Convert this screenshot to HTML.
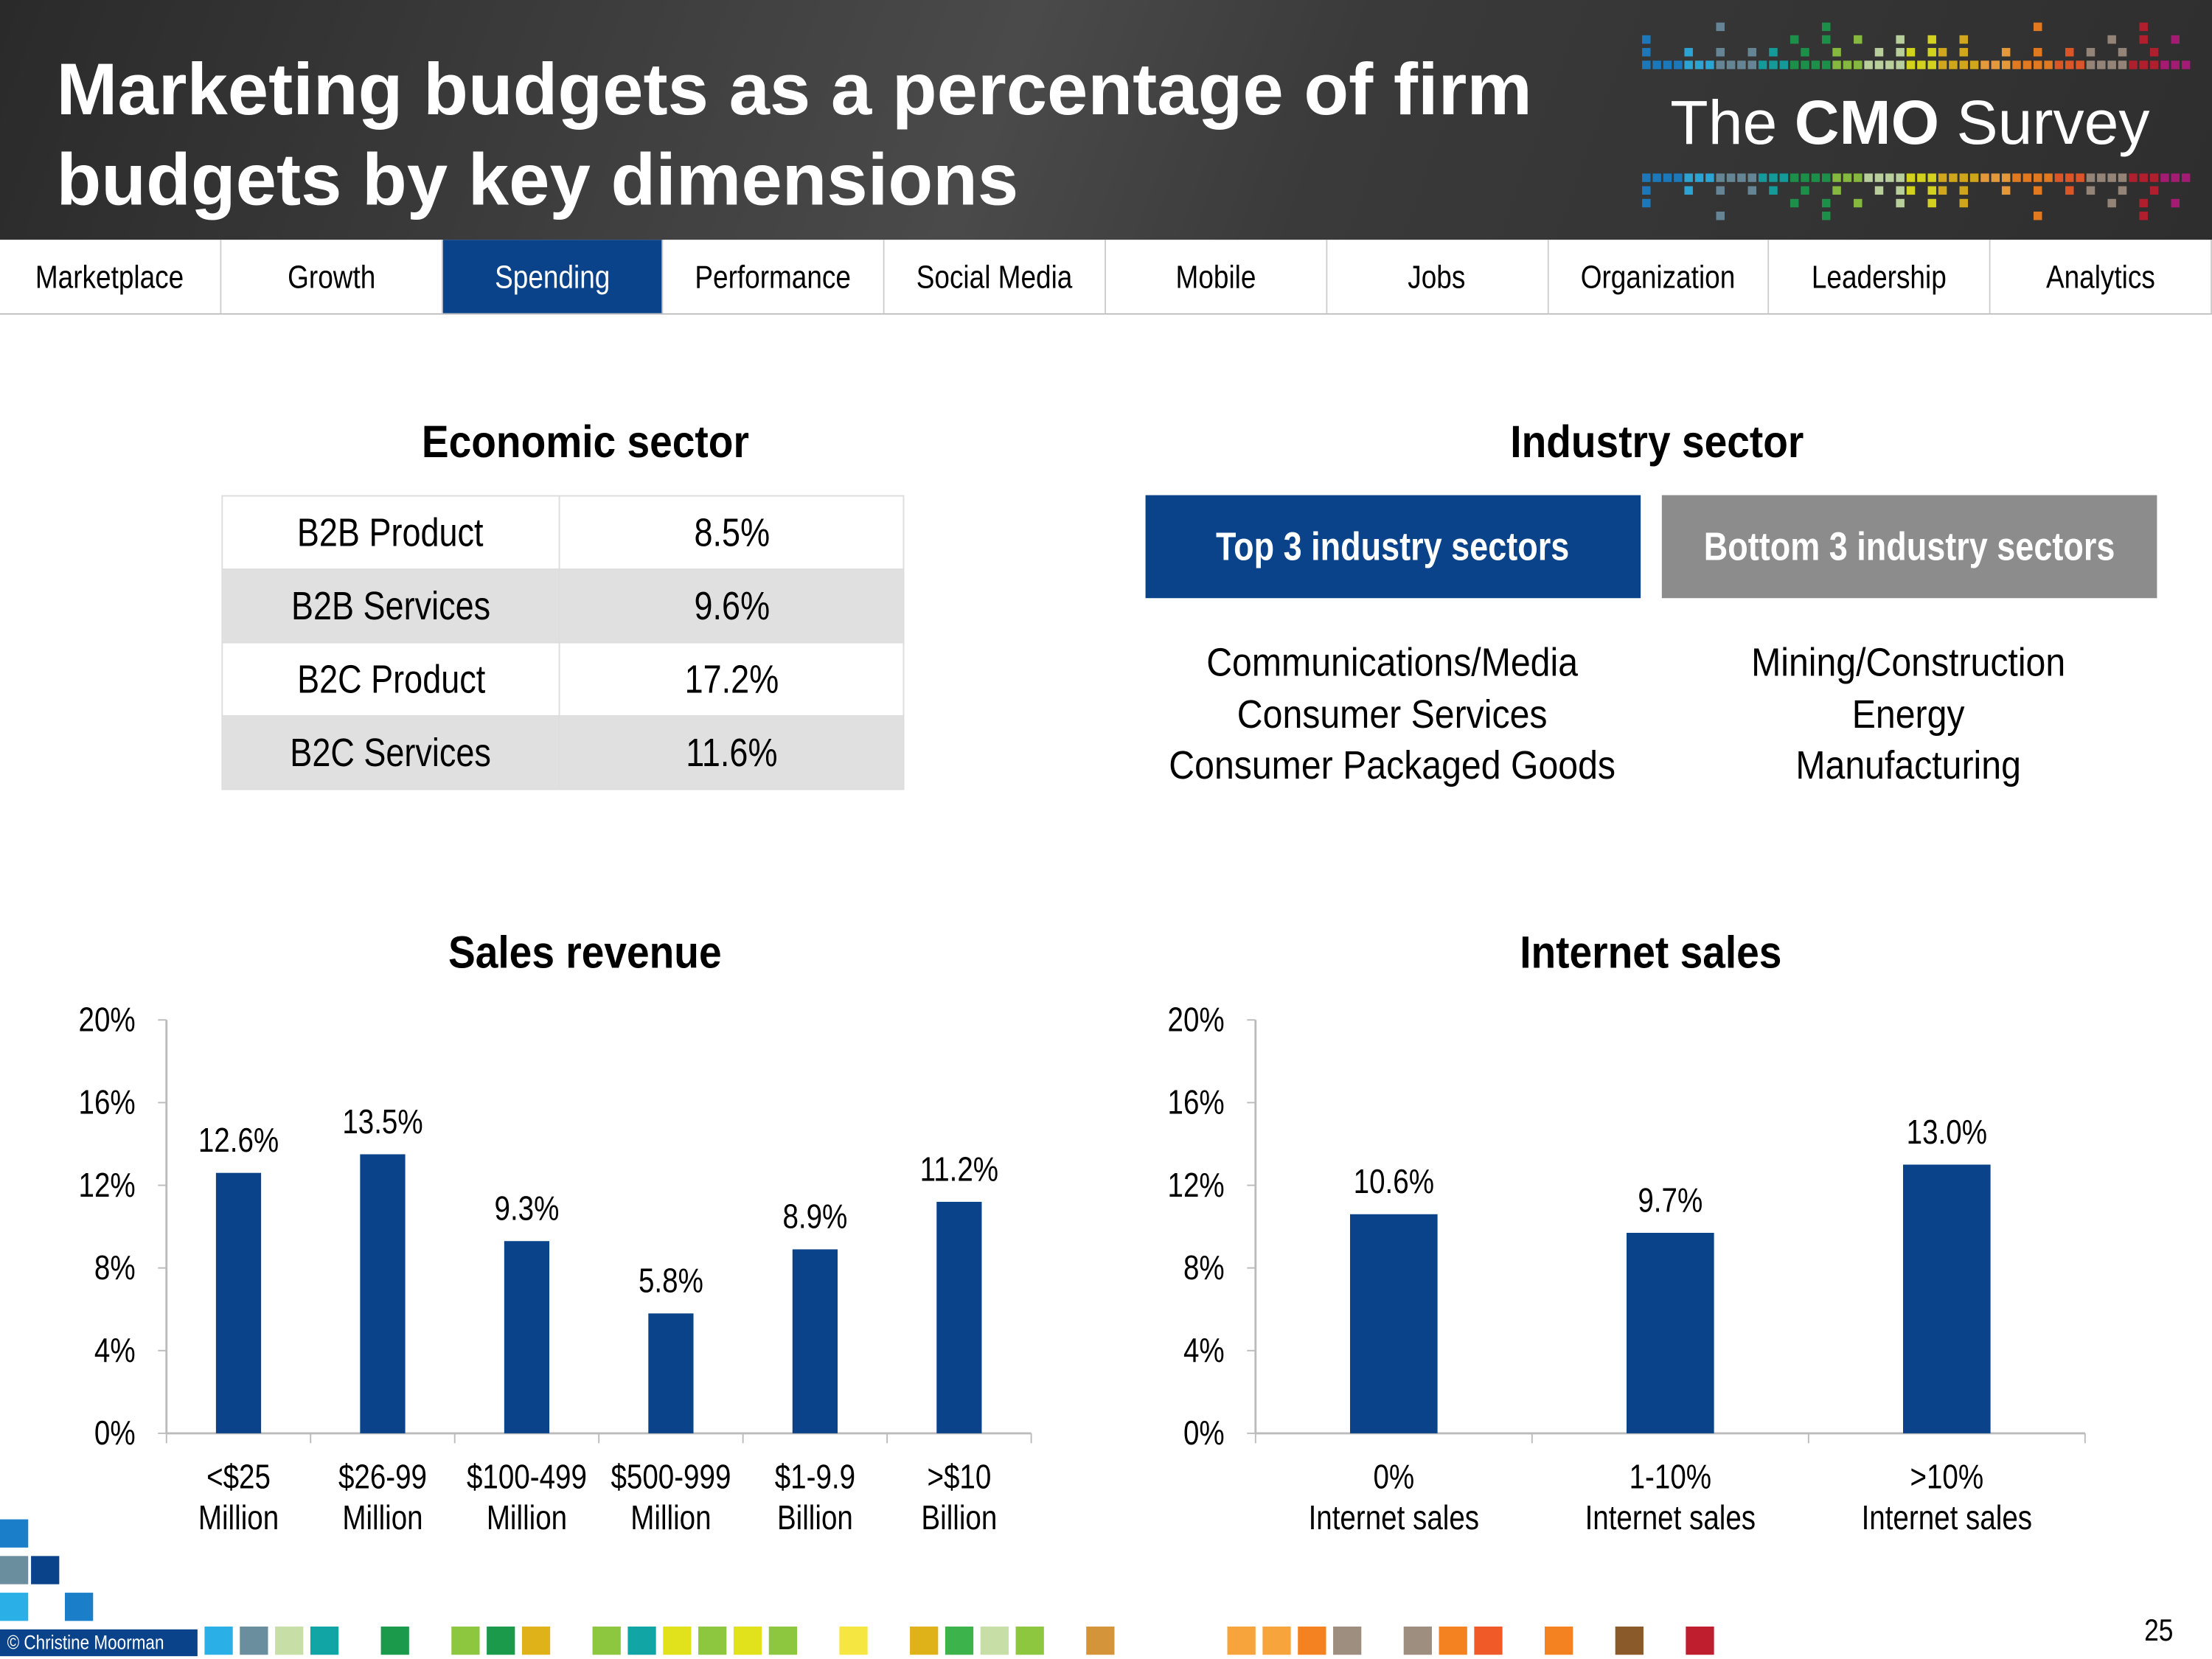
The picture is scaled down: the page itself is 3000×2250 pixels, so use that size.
<!DOCTYPE html>
<html><head><meta charset="utf-8"><style>
html,body{margin:0;padding:0;background:#fff;overflow:hidden}
#page{position:relative;width:1568px;height:1176px;transform:scale(1.91327);transform-origin:0 0;font-family:"Liberation Sans",sans-serif;color:#000}
.abs{position:absolute}
.n{display:inline-block;transform:scaleX(.84);white-space:nowrap}
.h .n,.list .n{transform:scaleX(.9)}
#header{left:0;top:0;width:1568px;height:170px;background:linear-gradient(110deg,#2a2a2a 0%,#4a4a4a 45%,#3a3a3a 60%,#2e2e2e 100%)}
#title{left:40px;top:32px;font-weight:bold;font-size:52px;line-height:64px;color:#fff;white-space:nowrap}
#nav{left:0;top:170px;width:1568px;height:52px;display:flex;border-bottom:1px solid #bbb}
.tab{flex:1;border-right:1px solid #ccc;display:flex;align-items:center;justify-content:center;font-size:23px;background:#fff}
.tab.on{background:#0a4389;color:#fff}
.h{font-weight:bold;font-size:32px;text-align:center}
table{border-collapse:collapse;font-size:28px}
td{border:1px solid #ddd;height:51px;text-align:center;padding:0}
.g td{background:#e0e0e0}
.box{display:flex;align-items:center;justify-content:center;color:#fff;font-weight:bold;font-size:28px}
.list{text-align:center;font-size:28px;line-height:36.5px;width:400px}
</style></head><body>
<div id="page">
<div id="header" class="abs">
 <div id="title" class="abs">Marketing budgets as a percentage of firm<br>budgets by key dimensions</div>
 <svg id="logo" class="abs" style="left:1160px;top:0" width="408" height="170">
  <g id="dots"></g>
  <text x="24" y="102" fill="#fff" font-family="Liberation Sans,sans-serif" font-size="44" font-weight="300">The <tspan font-weight="bold">CMO</tspan> Survey</text>
 </svg>
</div>
<div id="nav" class="abs">
 <div class="tab"><span class="n">Marketplace</span></div>
 <div class="tab"><span class="n">Growth</span></div>
 <div class="tab on"><span class="n">Spending</span></div>
 <div class="tab"><span class="n">Performance</span></div>
 <div class="tab"><span class="n">Social Media</span></div>
 <div class="tab"><span class="n">Mobile</span></div>
 <div class="tab"><span class="n">Jobs</span></div>
 <div class="tab"><span class="n">Organization</span></div>
 <div class="tab"><span class="n">Leadership</span></div>
 <div class="tab"><span class="n">Analytics</span></div>
</div>
<div class="abs h" style="left:215px;top:295px;width:400px"><span class="n">Economic sector</span></div>
<table class="abs" style="left:157px;top:351px;width:484px">
 <tr><td style="width:238px"><span class="n">B2B Product</span></td><td><span class="n">8.5%</span></td></tr>
 <tr class="g"><td><span class="n">B2B Services</span></td><td><span class="n">9.6%</span></td></tr>
 <tr><td><span class="n">B2C Product</span></td><td><span class="n">17.2%</span></td></tr>
 <tr class="g"><td><span class="n">B2C Services</span></td><td><span class="n">11.6%</span></td></tr>
</table>
<div class="abs h" style="left:975px;top:295px;width:400px"><span class="n">Industry sector</span></div>
<div class="abs box" style="left:812px;top:351px;width:351px;height:73px;background:#0a4389"><span class="n">Top 3 industry sectors</span></div>
<div class="abs box" style="left:1178px;top:351px;width:351px;height:73px;background:#8c8c8c"><span class="n">Bottom 3 industry sectors</span></div>
<div class="abs list" style="left:787px;top:452px"><span class="n">Communications/Media<br>Consumer Services<br>Consumer Packaged Goods</span></div>
<div class="abs list" style="left:1153px;top:452px"><span class="n">Mining/Construction<br>Energy<br>Manufacturing</span></div>
<div class="abs h" style="left:215px;top:657px;width:400px"><span class="n">Sales revenue</span></div>
<div class="abs h" style="left:970px;top:657px;width:400px"><span class="n">Internet sales</span></div>
<svg class="abs" style="left:0;top:0" width="1568" height="1176" id="charts"></svg>
<div class="abs" style="left:0;top:1155px;width:140px;height:19px;background:#0a4389;color:#fff;font-size:14px;line-height:19px;padding-left:5px;box-sizing:border-box"><span class="n" style="transform-origin:0 50%">© Christine Moorman</span></div>
<div class="abs" style="left:1518px;top:1143px;font-size:22px"><span class="n">25</span></div>
</div>
<script>
const revCats=[["<$25","Million"],["$26-99","Million"],["$100-499","Million"],["$500-999","Million"],["$1-9.9","Billion"],[">$10","Billion"]];
const revVals=[12.6,13.5,9.3,5.8,8.9,11.2];
const revLabels=["12.6%","13.5%","9.3%","5.8%","8.9%","11.2%"];
const netCats=[["0%","Internet sales"],["1-10%","Internet sales"],[">10%","Internet sales"]];
const netVals=[10.6,9.7,13.0];
const netLabels=["10.6%","9.7%","13.0%"];
const ticks=[0,4,8,12,16,20];
const tickLabels=["0%","4%","8%","12%","16%","20%"];
const NS="http://www.w3.org/2000/svg";
const svg=document.getElementById('charts');
function mk(t,a,p){const e=document.createElementNS(NS,t);for(const k in a)e.setAttribute(k,a[k]);(p||svg).appendChild(e);return e;}
function txt(x,y,s,anchor,g){const t=mk('text',{transform:'translate('+x+','+y+') scale(0.84,1)','text-anchor':anchor,'font-size':24,'font-family':'Liberation Sans,sans-serif'},g);t.textContent=s;return t;}
function chart(x0,x1,cats,vals,labels,bw,nm){
 const y=v=>1016-v*(293/20);const cw=(x1-x0)/cats.length;
 const g=mk('g',{});
 
 
 mk('line',{x1:x0,y1:723,x2:x0,y2:1016,stroke:'#bbb','stroke-width':1.5},g);
 mk('line',{x1:x0,y1:1016,x2:x1,y2:1016,stroke:'#bbb','stroke-width':1.5},g);
 ticks.forEach((t,i)=>{mk('line',{x1:x0-6,y1:y(t),x2:x0,y2:y(t),stroke:'#bbb'},g);
  const tx=txt(x0-22,y(t)+8,tickLabels[i],'end',g);
  
  });
 for(let i=0;i<=cats.length;i++)mk('line',{x1:x0+i*cw,y1:1016,x2:x0+i*cw,y2:1023,stroke:'#bbb'},g);
 cats.forEach((c,i)=>{const cx=x0+cw*(i+.5);
  const r=mk('rect',{x:cx-bw/2,y:y(vals[i]),width:bw,height:1016-y(vals[i]),fill:'#0a4389'},g);
  
  
  const l=txt(cx,y(vals[i])-15,labels[i],'middle',g);
  
  
  c.forEach((s,j)=>{const t=txt(cx,1055+j*29,s,'middle',g);
   
   });});
}
chart(118,731,revCats,revVals,revLabels,32,'sales-revenue-chart');
chart(890,1478,netCats,netVals,netLabels,62,'internet-sales-chart');
const cols=["#1a7fc8","#2ab0e6","#6b8e9e","#12a5a5","#1a9a4a","#8dc63f","#c7dfa6","#e2e21c","#e0b21a","#f7a43c","#f58220","#f05a28","#9e8e80","#be1e2d","#b0197b"];
const dots=document.getElementById('dots');
for(let i=0;i<52;i++){const c=cols[Math.floor(i/52*cols.length)];
 const h=[3,1,2,1,3,2,1,4,2,1][i%10];
 for(let k=0;k<h;k++){ if(k>0&&(i*7+k)%3==0)continue;
  mk('rect',{x:4+i*7.5,y:43-k*9,width:6,height:6,fill:c,opacity:.9},dots);
  mk('rect',{x:4+i*7.5,y:123+k*9,width:6,height:6,fill:c,opacity:.9},dots);}}
const fcols=["#2ab0e6","#6b8e9e","#c7dfa6","#12a5a5",null,"#1a9a4a",null,"#8dc63f","#1a9a4a","#e0b21a",null,"#8dc63f","#12a5a5","#e2e21c","#8dc63f","#e2e21c","#8dc63f",null,"#f5e642",null,"#e0b21a","#3cb44b","#c7dfa6","#8dc63f",null,"#d4943a",null,null,null,"#f7a43c","#f7a43c","#f58220","#9e8e80",null,"#9e8e80","#f58220","#f05a28",null,"#f58220",null,"#8b5a2b",null,"#be1e2d"];
fcols.forEach((c,i)=>{if(c)mk('rect',{x:145+i*25,y:1153,width:20,height:20,fill:c});});
[[0,1077,'#1a7fc8'],[0,1103,'#6b8e9e'],[22,1103,'#0a4389'],[0,1129,'#2ab0e6'],[46,1129,'#1a7fc8']].forEach(d=>mk('rect',{x:d[0],y:d[1],width:20,height:20,fill:d[2]}));
</script>
</body></html>
